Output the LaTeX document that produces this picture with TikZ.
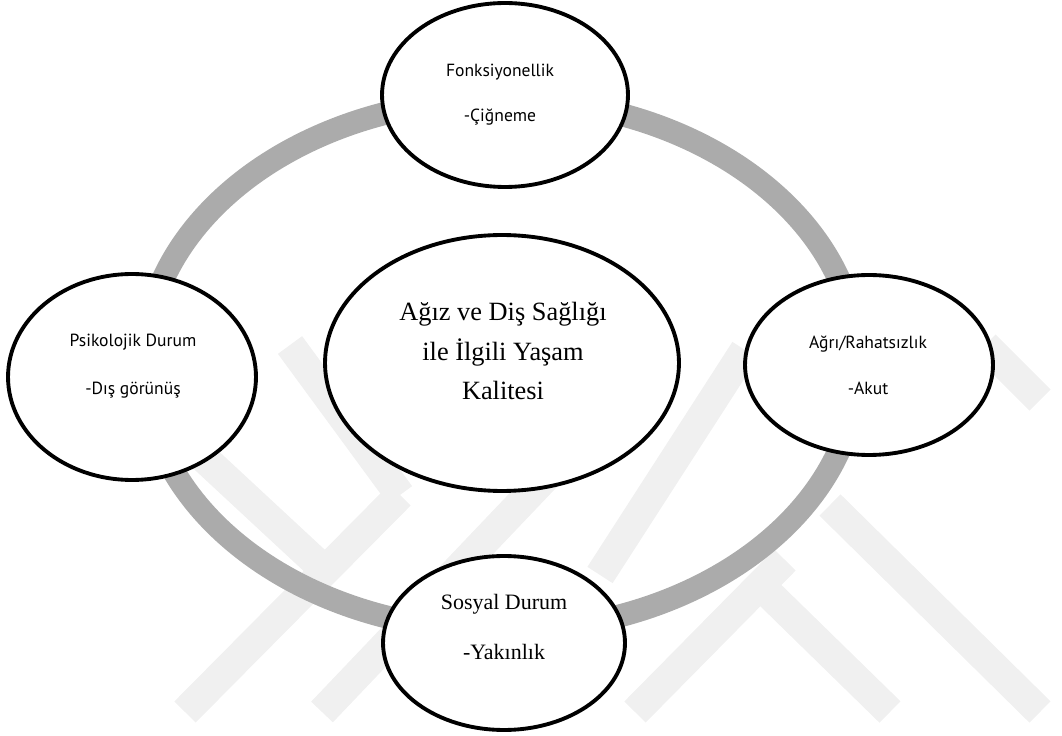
\documentclass[tikz,border=0pt]{standalone}
\usepackage{fontspec}
\setmainfont{Liberation Serif}
\newfontfamily\labelfont{PT Sans}
\usetikzlibrary{shapes}

\tikzset{
  bubble/.style={draw, ellipse, line width=2.2pt, fill=white, inner sep=0pt},
  ring/.style={draw=black!33, line width=0.46cm},
  wmark/.style={draw=black!6, line width=0.6cm},
  sanstext/.style={align=center, font=\labelfont\fontsize{10}{12}\selectfont},
  seriftext/.style={align=center, font=\fontsize{12.5}{15}\selectfont}
}

\begin{document}
\begin{tikzpicture}[x=0.02cm,y=-0.02cm]
\useasboundingbox (0,0) rectangle (1062,736);
% faint background mark
\draw[wmark] (290,345) -- (400,495);
\draw[wmark] (400,495) -- (185,712);
\draw[wmark] (190,445) -- (330,575);
\draw[wmark] (322,712) -- (600,420);
\draw[wmark] (600,575) -- (745,350);
\draw[wmark] (635,712) -- (785,560);
\draw[wmark] (760,585) -- (890,712);
\draw[wmark] (830,505) -- (1040,712);
\draw[wmark] (985,345) -- (1040,400);
% the grey ring
\coordinate (ringc) at (501,365);
\draw[ring] (ringc) ellipse [x radius=7.14cm, y radius=5.32cm];
% bubbles
\node[bubble, minimum width=4.92cm, minimum height=3.68cm] (fonk) at (505,95) {};
\node[bubble, minimum width=4.96cm, minimum height=4.12cm] (psiko) at (132,377) {};
\node[bubble, minimum width=4.96cm, minimum height=3.6cm] (agri) at (869,365) {};
\node[bubble, minimum width=4.84cm, minimum height=3.48cm] (sosyal) at (504,643) {};
\node[bubble, minimum width=7.08cm, minimum height=5.12cm] (yasam) at (502,363) {};
% texts
\node[sanstext] (fonktxt) at (500,95) {Fonksiyonellik\\[13.6pt]-Çiğneme};
\node[sanstext] (psikotxt) at (133,366) {Psikolojik Durum\\[15.3pt]-Dış görünüş};
\node[sanstext] (agritxt) at (868,365) {Ağrı/Rahatsızlık\\[14pt]-Akut};
\node[seriftext] (sosyaltxt) at (504,627) {Sosyal Durum\\[13.5pt]-Yakınlık};
\node[align=center, font=\fontsize{15}{22.4}\selectfont] (yasamtxt) at (503,351)
  {Ağız ve Diş Sağlığı\\ile İlgili Yaşam\\Kalitesi};
\end{tikzpicture}
\end{document}
